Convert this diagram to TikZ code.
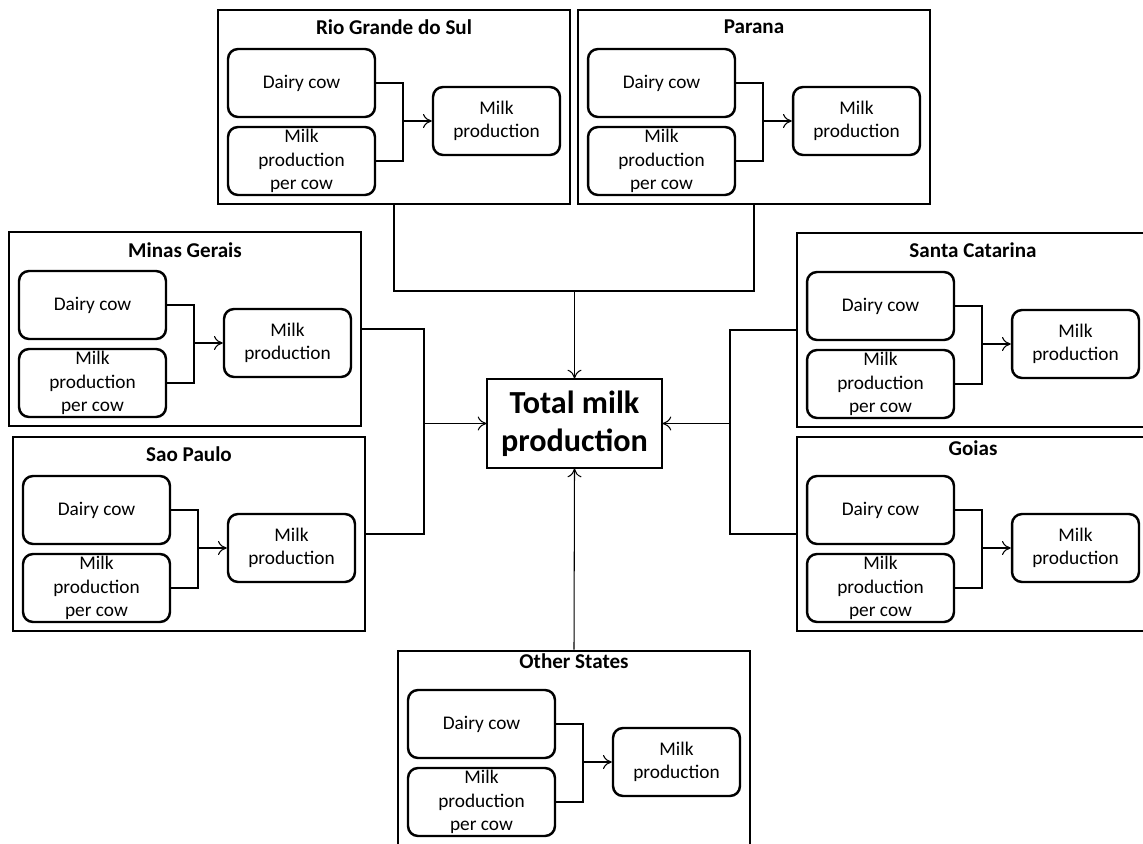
\documentclass[tikz,border=0pt]{standalone}
\usepackage{fontspec}
\setmainfont{Carlito}
\usetikzlibrary{arrows.meta}
\newcommand\stateblock[5]{%
  \node[statebox] (#1) at (#2+176,#3+97) {};
  \node[stitle] (#1-t) at (#2+176,#3+#5) {#4};
  \node[inbox] (#1-d) at (#2+83.5,#3+73) {Dairy cow};
  \node[inbox] (#1-p) at (#2+83.5,#3+151) {Milk\\production\\per cow};
  \node[outbox] (#1-m) at (#2+278.5,#3+111) {Milk\\production};
  \coordinate (#1-j) at (#2+185,#3+111);
  \draw[conn] (#1-d.east) -| (#1-j) |- (#1-p.east);
  \draw[arr] (#1-j) -- (#1-m.west);
}
\begin{document}
\begin{tikzpicture}[x=0.02cm,y=-0.02cm,
  statebox/.style={draw, line width=1.5pt, minimum width=7.04cm, minimum height=3.88cm, inner sep=0pt},
  inbox/.style={draw, line width=1.4pt, rounded corners=0.2cm, minimum width=2.94cm, minimum height=1.36cm, inner sep=0pt, align=center, font=\fontsize{11}{13.3}\selectfont},
  outbox/.style={inbox, minimum width=2.54cm},
  stitle/.style={inner sep=0pt, font=\bfseries\fontsize{12}{13}\selectfont},
  conn/.style={line width=0.6pt},
  arr/.style={conn, -{To[length=5pt,width=8pt]}}]
\useasboundingbox (0,0) rectangle (1143,844);
\clip (0,0) rectangle (1143,844);

\stateblock{rgs}{218}{10}{Rio Grande do Sul}{17}
\stateblock{par}{578}{10}{Parana}{17}
\stateblock{mg}{9}{232}{Minas Gerais}{18}
\stateblock{sp}{13}{437}{Sao Paulo}{17}
\stateblock{sc}{797}{233}{Santa Catarina}{17}
\stateblock{go}{797}{437}{Goias}{11}
\stateblock{os}{398}{651}{Other States}{10}

\node[draw, line width=0.6pt, minimum width=3.5cm, minimum height=1.78cm, inner sep=0pt, align=center,
  font=\bfseries\fontsize{18.3}{21.7}\selectfont] (total) at (574.5,423.5) {Total milk\\production};

\coordinate (topj) at (574.5,291);
\coordinate (lj) at (424,423.5);
\coordinate (rj) at (730,423.5);

\draw[conn] (rgs.south) |- (topj) -| (par.south);
\draw[arr] (topj) -- (total.north);
\draw[conn] (mg.east) -| (lj) |- (sp.east);
\draw[arr] (lj) -- (total.west);
\draw[conn] (sc.west) -| (rj) |- (go.west);
\draw[arr] (rj) -- (total.east);
\draw[arr] (os.north) -- (total.south);
\end{tikzpicture}
\end{document}
